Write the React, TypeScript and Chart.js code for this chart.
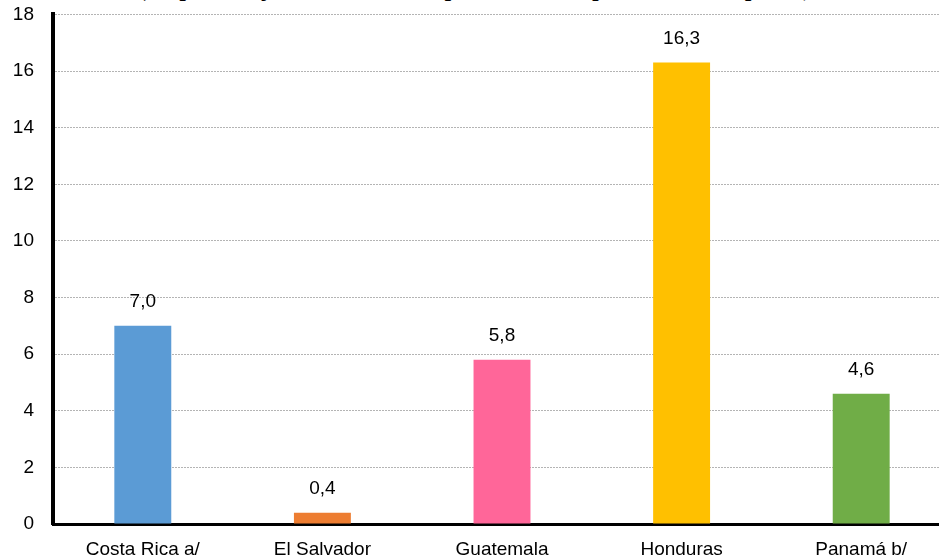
import React, { useEffect, useRef } from "react";
import { Chart, registerables } from "chart.js";

Chart.register(...registerables);

const categories = ["Costa Rica a/", "El Salvador", "Guatemala", "Honduras", "Panamá b/"];
const values = [7.0, 0.4, 5.8, 16.3, 4.6];
const barColors = ["#5B9BD5", "#ED7D31", "#FF6699", "#FFC000", "#70AD47"];
const yTicks = [0, 2, 4, 6, 8, 10, 12, 14, 16, 18];
const titleText = "(En porcentajes de variación respecto al mismo período del año previo)";

const FONT = "'Liberation Sans', Arial, sans-serif";

const valueLabels = {
  id: "valueLabels",
  afterDatasetsDraw(chart: any) {
    const ctx = chart.ctx;
    const meta = chart.getDatasetMeta(0);
    ctx.save();
    ctx.font = `19px ${FONT}`;
    ctx.fillStyle = "#000";
    ctx.textAlign = "center";
    ctx.textBaseline = "middle";
    meta.data.forEach((bar: any, i: number) => {
      const v = values[i];
      ctx.fillText(v.toFixed(1).replace(".", ","), bar.x, bar.y - 24);
    });
    ctx.restore();
  },
};

export default function App() {
  const ref = useRef<HTMLCanvasElement>(null);
  useEffect(() => {
    if (!ref.current) return;
    const chart = new Chart(ref.current, {
      type: "bar",
      data: {
        labels: categories,
        datasets: [
          {
            data: values,
            backgroundColor: barColors,
            borderWidth: 0,
            barPercentage: 0.317,
            categoryPercentage: 1,
          },
        ],
      },
      options: {
        animation: false,
        responsive: false,
        maintainAspectRatio: false,
        layout: { padding: { top: 0, right: 0, left: 0, bottom: 0 } },
        plugins: { legend: { display: false }, tooltip: { enabled: false }, title: { display: false } },
        scales: {
          x: {
            grid: { display: false, drawTicks: false },
            border: { display: true, color: "#000", width: 3 },
            ticks: { font: { family: FONT, size: 19 }, color: "#000", padding: 14, maxRotation: 0 },
            afterFit(scale: any) {
              scale.height = 36;
            },
          },
          y: {
            min: 0,
            max: 18,
            afterBuildTicks(scale: any) {
              scale.ticks = yTicks.map((v) => ({ value: v }));
            },
            grid: {
              color: "#B4B4B4",
              lineWidth: 1,
              drawTicks: false,
            },
            border: { display: true, color: "#000", width: 4, dash: [2, 1] },
            ticks: { font: { family: FONT, size: 19 }, color: "#000", padding: 19 },
            afterFit(scale: any) {
              scale.width = 53;
            },
          },
        },
      },
      plugins: [valueLabels],
    });
    return () => chart.destroy();
  }, []);

  return (
    <div
      style={{
        position: "fixed",
        left: 0,
        top: 0,
        width: 939,
        height: 560,
        overflow: "hidden",
        background: "#fff",
      }}
    >
      <div
        style={{
          position: "absolute",
          left: 0,
          width: 953,
          top: -23,
          textAlign: "center",
          fontFamily: "'Liberation Serif', 'Times New Roman', serif",
          fontStyle: "italic",
          fontWeight: "bold",
          fontSize: 23,
          lineHeight: "23px",
          whiteSpace: "nowrap",
        }}
      >
        {titleText}
      </div>
      <canvas ref={ref} width={951} height={576} style={{ position: "absolute", left: 0, top: -16 }} />
    </div>
  );
}
